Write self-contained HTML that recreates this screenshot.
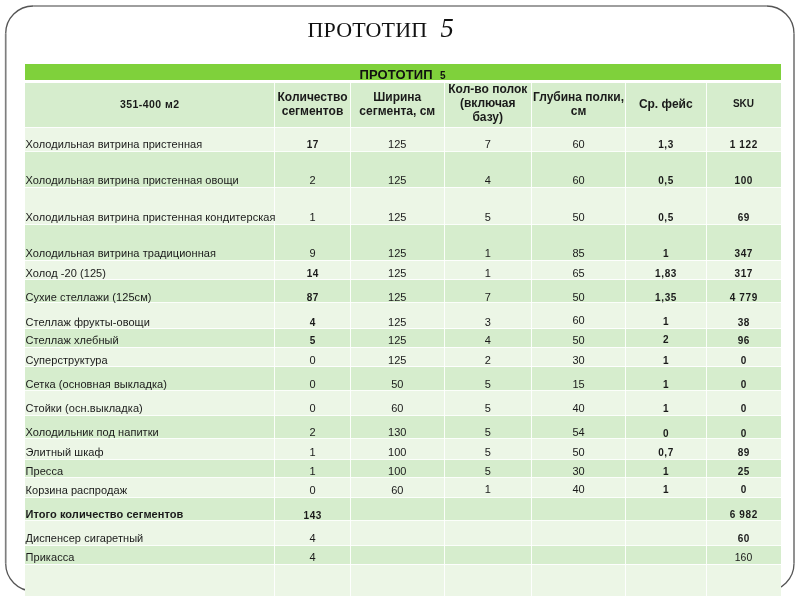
<!DOCTYPE html>
<html lang="ru"><head><meta charset="utf-8"><title>ПРОТОТИП 5</title>
<style>
html,body{margin:0;padding:0;background:#fff;}
body{width:800px;height:600px;position:relative;overflow:hidden;font-family:"Liberation Sans",sans-serif;color:#1a1a1a;}
.frame{position:absolute;left:0;top:0;width:800px;height:600px;}
.title{position:absolute;left:307.5px;top:12.5px;font-family:"Liberation Serif",serif;font-size:22px;line-height:30px;white-space:pre;color:#111;letter-spacing:0.15px}
.title b{font-weight:normal;font-style:italic;font-size:26.5px;margin-left:2px}
.tbl{position:absolute;left:25px;top:0;width:756px;height:600px;}
.hd{position:absolute;left:0;top:63.5px;width:756px;height:16.5px;background:#7fd13b;}
.hd span{position:absolute;left:334.5px;top:3px;font-weight:bold;font-size:13px;line-height:16px;white-space:pre;color:#111;letter-spacing:0.1px}
.hd span i{font-style:normal;font-size:10px}
.ch{position:absolute;left:0;top:82.5px;width:756px;height:44.5px;background:#d6edcd;}
.ch .c{padding-bottom:1px;display:flex;align-items:center;justify-content:center;text-align:center;font-weight:bold;font-size:12px;line-height:14px;top:0;height:100%;}
.r{position:absolute;left:0;width:756px;}
.in{position:absolute;left:0;width:100%;height:100%}
.r.l{background:#ecf6e6;}
.r.d{background:#d6edcd;}
.c{position:absolute;top:0;height:100%;box-sizing:border-box;font-size:11px;line-height:13px;text-align:center;white-space:nowrap;}
.r .c span{position:absolute;left:0;right:0;bottom:0px;z-index:2}
.r .c.n{text-align:left;letter-spacing:0.06px}
.r .c.n span{left:0.5px;}
.c.b{font-weight:bold;font-size:11px}
.c.k{font-weight:bold;font-size:10px;letter-spacing:0.6px}
.c.k span{bottom:-0.33px;padding-left:0.6px}
.vl{position:absolute;top:82px;width:1px;height:513.6px;background:rgba(255,255,255,.9);}
.hl{position:absolute;left:0;width:756px;height:1px;background:rgba(255,255,255,.9);}
</style></head><body>
<svg class="frame" width="800" height="600" viewBox="0 0 800 600" fill="none">
<g stroke="#7e7e7e" stroke-width="1.7"><path d="M33.2,6H766.5"/><path d="M33.2,591H766.5"/><path d="M5.7,33.5V563.5"/><path d="M794,33.5V563.5"/></g>
<g stroke="#555" stroke-width="1.3"><path d="M5.7,33.5A27.5,27.5 0 0 1 33.2,6"/><path d="M766.5,6A27.5,27.5 0 0 1 794,33.5"/><path d="M794,563.5A27.5,27.5 0 0 1 766.5,591"/><path d="M33.2,591A27.5,27.5 0 0 1 5.7,563.5"/></g>
</svg>
<div class="title">ПРОТОТИП  <b>5</b></div>
<div class="tbl">
<div class="hd"><span>ПРОТОТИП  <i>5</i></span></div>
<div class="ch">
<div class="c" style="left:0;width:249.5px;font-size:10.5px;letter-spacing:0.45px">351-400 м2</div>
<div class="c" style="left:249.5px;width:76px">Количество<br>сегментов</div>
<div class="c" style="left:325.5px;width:93.5px">Ширина<br>сегмента, см</div>
<div class="c" style="left:419px;width:87.5px;padding-bottom:3px">Кол-во полок<br>(включая<br>базу)</div>
<div class="c" style="left:506.5px;width:94px">Глубина полки,<br>см</div>
<div class="c" style="left:600.5px;width:80.5px">Ср. фейс</div>
<div class="c" style="left:681px;width:75px;font-size:10px">SKU</div>
</div>
<div class="r l" style="top:127px;height:24px"><div class="in" style="top:0px"><div class="c n" style="left:0;width:249.5px"><span>Холодильная витрина пристенная</span></div><div class="c k" style="left:249.5px;width:76.0px"><span>17</span></div><div class="c" style="left:325.5px;width:93.5px"><span>125</span></div><div class="c" style="left:419px;width:87.5px"><span>7</span></div><div class="c" style="left:506.5px;width:94.0px"><span>60</span></div><div class="c k" style="left:600.5px;width:80.5px"><span>1,3</span></div><div class="c k" style="left:681px;width:75px"><span>1 122</span></div></div></div>
<div class="r d" style="top:151px;height:36px"><div class="in" style="top:0px"><div class="c n" style="left:0;width:249.5px"><span>Холодильная витрина пристенная овощи</span></div><div class="c" style="left:249.5px;width:76.0px"><span>2</span></div><div class="c" style="left:325.5px;width:93.5px"><span>125</span></div><div class="c" style="left:419px;width:87.5px"><span>4</span></div><div class="c" style="left:506.5px;width:94.0px"><span>60</span></div><div class="c k" style="left:600.5px;width:80.5px"><span>0,5</span></div><div class="c k" style="left:681px;width:75px"><span>100</span></div></div></div>
<div class="r l" style="top:187px;height:37px"><div class="in" style="top:0px"><div class="c n" style="left:0;width:249.5px"><span>Холодильная витрина пристенная кондитерская</span></div><div class="c" style="left:249.5px;width:76.0px"><span>1</span></div><div class="c" style="left:325.5px;width:93.5px"><span>125</span></div><div class="c" style="left:419px;width:87.5px"><span>5</span></div><div class="c" style="left:506.5px;width:94.0px"><span>50</span></div><div class="c k" style="left:600.5px;width:80.5px"><span>0,5</span></div><div class="c k" style="left:681px;width:75px"><span>69</span></div></div></div>
<div class="r d" style="top:224px;height:36px"><div class="in" style="top:0px"><div class="c n" style="left:0;width:249.5px"><span>Холодильная витрина традиционная</span></div><div class="c" style="left:249.5px;width:76.0px"><span>9</span></div><div class="c" style="left:325.5px;width:93.5px"><span>125</span></div><div class="c" style="left:419px;width:87.5px"><span>1</span></div><div class="c" style="left:506.5px;width:94.0px"><span>85</span></div><div class="c k" style="left:600.5px;width:80.5px"><span>1</span></div><div class="c k" style="left:681px;width:75px"><span>347</span></div></div></div>
<div class="r l" style="top:260px;height:19.5px"><div class="in" style="top:0.5px"><div class="c n" style="left:0;width:249.5px"><span>Холод -20 (125)</span></div><div class="c k" style="left:249.5px;width:76.0px"><span>14</span></div><div class="c" style="left:325.5px;width:93.5px"><span>125</span></div><div class="c" style="left:419px;width:87.5px"><span>1</span></div><div class="c" style="left:506.5px;width:94.0px"><span>65</span></div><div class="c k" style="left:600.5px;width:80.5px"><span>1,83</span></div><div class="c k" style="left:681px;width:75px"><span>317</span></div></div></div>
<div class="r d" style="top:279.5px;height:23.0px"><div class="in" style="top:1px"><div class="c n" style="left:0;width:249.5px"><span>Сухие стеллажи (125см)</span></div><div class="c k" style="left:249.5px;width:76.0px"><span style="bottom:-0.63px !important">87</span></div><div class="c" style="left:325.5px;width:93.5px"><span>125</span></div><div class="c" style="left:419px;width:87.5px"><span>7</span></div><div class="c" style="left:506.5px;width:94.0px"><span>50</span></div><div class="c k" style="left:600.5px;width:80.5px"><span style="bottom:-0.63px !important">1,35</span></div><div class="c k" style="left:681px;width:75px"><span style="bottom:-0.63px !important">4 779</span></div></div></div>
<div class="r l" style="top:302.5px;height:26.0px"><div class="in" style="top:0px"><div class="c n" style="left:0;width:249.5px"><span>Стеллаж фрукты-овощи</span></div><div class="c k" style="left:249.5px;width:76.0px"><span>4</span></div><div class="c" style="left:325.5px;width:93.5px"><span>125</span></div><div class="c" style="left:419px;width:87.5px"><span>3</span></div><div class="c" style="left:506.5px;width:94.0px"><span style="bottom:1.3px !important">60</span></div><div class="c k" style="left:600.5px;width:80.5px"><span style="bottom:0.97px !important">1</span></div><div class="c k" style="left:681px;width:75px"><span>38</span></div></div></div>
<div class="r d" style="top:328.5px;height:18.5px"><div class="in" style="top:0px"><div class="c n" style="left:0;width:249.5px"><span>Стеллаж хлебный</span></div><div class="c k" style="left:249.5px;width:76.0px"><span>5</span></div><div class="c" style="left:325.5px;width:93.5px"><span>125</span></div><div class="c" style="left:419px;width:87.5px"><span>4</span></div><div class="c" style="left:506.5px;width:94.0px"><span>50</span></div><div class="c k" style="left:600.5px;width:80.5px"><span style="bottom:0.97px !important">2</span></div><div class="c k" style="left:681px;width:75px"><span>96</span></div></div></div>
<div class="r l" style="top:347px;height:19.5px"><div class="in" style="top:0px"><div class="c n" style="left:0;width:249.5px"><span>Суперструктура</span></div><div class="c" style="left:249.5px;width:76.0px"><span>0</span></div><div class="c" style="left:325.5px;width:93.5px"><span>125</span></div><div class="c" style="left:419px;width:87.5px"><span>2</span></div><div class="c" style="left:506.5px;width:94.0px"><span>30</span></div><div class="c k" style="left:600.5px;width:80.5px"><span>1</span></div><div class="c k" style="left:681px;width:75px"><span>0</span></div></div></div>
<div class="r d" style="top:366.5px;height:24.0px"><div class="in" style="top:0px"><div class="c n" style="left:0;width:249.5px"><span>Сетка (основная выкладка)</span></div><div class="c" style="left:249.5px;width:76.0px"><span>0</span></div><div class="c" style="left:325.5px;width:93.5px"><span>50</span></div><div class="c" style="left:419px;width:87.5px"><span>5</span></div><div class="c" style="left:506.5px;width:94.0px"><span>15</span></div><div class="c k" style="left:600.5px;width:80.5px"><span>1</span></div><div class="c k" style="left:681px;width:75px"><span>0</span></div></div></div>
<div class="r l" style="top:390.5px;height:24.5px"><div class="in" style="top:0px"><div class="c n" style="left:0;width:249.5px"><span>Стойки (осн.выкладка)</span></div><div class="c" style="left:249.5px;width:76.0px"><span>0</span></div><div class="c" style="left:325.5px;width:93.5px"><span>60</span></div><div class="c" style="left:419px;width:87.5px"><span>5</span></div><div class="c" style="left:506.5px;width:94.0px"><span>40</span></div><div class="c k" style="left:600.5px;width:80.5px"><span>1</span></div><div class="c k" style="left:681px;width:75px"><span>0</span></div></div></div>
<div class="r d" style="top:415px;height:23.5px"><div class="in" style="top:0px"><div class="c n" style="left:0;width:249.5px"><span>Холодильник под напитки</span></div><div class="c" style="left:249.5px;width:76.0px"><span>2</span></div><div class="c" style="left:325.5px;width:93.5px"><span>130</span></div><div class="c" style="left:419px;width:87.5px"><span style="bottom:-0.7px !important">5</span></div><div class="c" style="left:506.5px;width:94.0px"><span style="bottom:-0.7px !important">54</span></div><div class="c k" style="left:600.5px;width:80.5px"><span style="bottom:-1.33px !important">0</span></div><div class="c k" style="left:681px;width:75px"><span style="bottom:-1.33px !important">0</span></div></div></div>
<div class="r l" style="top:438.5px;height:20.5px"><div class="in" style="top:0px"><div class="c n" style="left:0;width:249.5px"><span>Элитный шкаф</span></div><div class="c" style="left:249.5px;width:76.0px"><span>1</span></div><div class="c" style="left:325.5px;width:93.5px"><span>100</span></div><div class="c" style="left:419px;width:87.5px"><span>5</span></div><div class="c" style="left:506.5px;width:94.0px"><span>50</span></div><div class="c k" style="left:600.5px;width:80.5px"><span>0,7</span></div><div class="c k" style="left:681px;width:75px"><span>89</span></div></div></div>
<div class="r d" style="top:459px;height:18.5px"><div class="in" style="top:0px"><div class="c n" style="left:0;width:249.5px"><span>Пресса</span></div><div class="c" style="left:249.5px;width:76.0px"><span>1</span></div><div class="c" style="left:325.5px;width:93.5px"><span>100</span></div><div class="c" style="left:419px;width:87.5px"><span>5</span></div><div class="c" style="left:506.5px;width:94.0px"><span>30</span></div><div class="c k" style="left:600.5px;width:80.5px"><span>1</span></div><div class="c k" style="left:681px;width:75px"><span>25</span></div></div></div>
<div class="r l" style="top:477.5px;height:19.5px"><div class="in" style="top:0px"><div class="c n" style="left:0;width:249.5px"><span>Корзина распродаж</span></div><div class="c" style="left:249.5px;width:76.0px"><span>0</span></div><div class="c" style="left:325.5px;width:93.5px"><span>60</span></div><div class="c" style="left:419px;width:87.5px"><span style="bottom:0.7px !important">1</span></div><div class="c" style="left:506.5px;width:94.0px"><span style="bottom:0.7px !important">40</span></div><div class="c k" style="left:600.5px;width:80.5px"><span style="bottom:0.97px !important">1</span></div><div class="c k" style="left:681px;width:75px"><span style="bottom:0.97px !important">0</span></div></div></div>
<div class="r d" style="top:497px;height:23.5px"><div class="in" style="top:0px"><div class="c n b" style="left:0;width:249.5px"><span>Итого количество сегментов</span></div><div class="c k" style="left:249.5px;width:76.0px"><span style="bottom:-1.13px !important">143</span></div><div class="c" style="left:325.5px;width:93.5px"><span></span></div><div class="c" style="left:419px;width:87.5px"><span></span></div><div class="c" style="left:506.5px;width:94.0px"><span></span></div><div class="c k" style="left:600.5px;width:80.5px"><span></span></div><div class="c k" style="left:681px;width:75px"><span>6 982</span></div></div></div>
<div class="r l" style="top:520.5px;height:24.5px"><div class="in" style="top:0px"><div class="c n" style="left:0;width:249.5px"><span>Диспенсер сигаретный</span></div><div class="c" style="left:249.5px;width:76.0px"><span>4</span></div><div class="c" style="left:325.5px;width:93.5px"><span></span></div><div class="c" style="left:419px;width:87.5px"><span></span></div><div class="c" style="left:506.5px;width:94.0px"><span></span></div><div class="c k" style="left:600.5px;width:80.5px"><span></span></div><div class="c k" style="left:681px;width:75px"><span>60</span></div></div></div>
<div class="r d" style="top:545px;height:19px"><div class="in" style="top:0px"><div class="c n" style="left:0;width:249.5px"><span>Прикасса</span></div><div class="c" style="left:249.5px;width:76.0px"><span>4</span></div><div class="c" style="left:325.5px;width:93.5px"><span></span></div><div class="c" style="left:419px;width:87.5px"><span></span></div><div class="c" style="left:506.5px;width:94.0px"><span></span></div><div class="c" style="left:600.5px;width:80.5px"><span></span></div><div class="c" style="left:681px;width:75px"><span style="font-size:10.4px">160</span></div></div></div>
<div class="r l" style="top:564px;height:31.600000000000023px"><div class="in" style="top:0px"><div class="c n" style="left:0;width:249.5px"><span></span></div><div class="c" style="left:249.5px;width:76.0px"><span></span></div><div class="c" style="left:325.5px;width:93.5px"><span></span></div><div class="c" style="left:419px;width:87.5px"><span></span></div><div class="c" style="left:506.5px;width:94.0px"><span></span></div><div class="c k" style="left:600.5px;width:80.5px"><span></span></div><div class="c k" style="left:681px;width:75px"><span></span></div></div></div>
<div class="vl" style="left:249.0px"></div><div class="vl" style="left:325.0px"></div><div class="vl" style="left:418.5px"></div><div class="vl" style="left:506.0px"></div><div class="vl" style="left:600.0px"></div><div class="vl" style="left:680.5px"></div>
<div class="hl" style="top:126.5px"></div><div class="hl" style="top:150.5px"></div><div class="hl" style="top:186.5px"></div><div class="hl" style="top:223.5px"></div><div class="hl" style="top:259.5px"></div><div class="hl" style="top:279.0px"></div><div class="hl" style="top:302.0px"></div><div class="hl" style="top:328.0px"></div><div class="hl" style="top:346.5px"></div><div class="hl" style="top:366.0px"></div><div class="hl" style="top:390.0px"></div><div class="hl" style="top:414.5px"></div><div class="hl" style="top:438.0px"></div><div class="hl" style="top:458.5px"></div><div class="hl" style="top:477.0px"></div><div class="hl" style="top:496.5px"></div><div class="hl" style="top:520.0px"></div><div class="hl" style="top:544.5px"></div><div class="hl" style="top:563.5px"></div>
</div>
</body></html>
